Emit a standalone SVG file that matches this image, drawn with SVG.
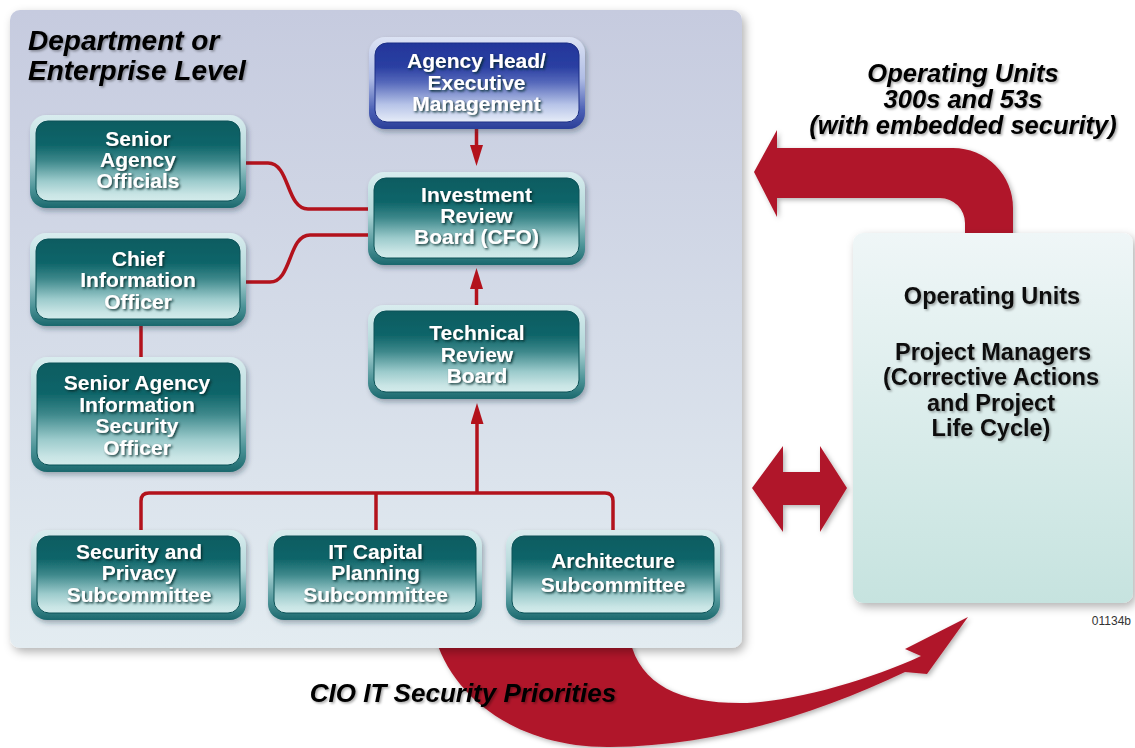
<svg xmlns="http://www.w3.org/2000/svg" width="1135" height="748" viewBox="0 0 1135 748">
<defs>
  <linearGradient id="gPanel" x1="0" y1="0" x2="0" y2="1">
    <stop offset="0" stop-color="#c6cbdf"/>
    <stop offset="1" stop-color="#e3ecf1"/>
  </linearGradient>
  <linearGradient id="gOp" x1="0" y1="0" x2="0" y2="1">
    <stop offset="0" stop-color="#eff6f7"/>
    <stop offset="1" stop-color="#c6e3df"/>
  </linearGradient>
  <linearGradient id="gRimTeal" x1="0" y1="0" x2="0" y2="1">
    <stop offset="0" stop-color="#d9edef"/>
    <stop offset="0.45" stop-color="#b2d7d9"/>
    <stop offset="0.8" stop-color="#4a9296"/>
    <stop offset="1" stop-color="#1b686d"/>
  </linearGradient>
  <linearGradient id="gFillTeal" x1="0" y1="0" x2="0" y2="1">
    <stop offset="0" stop-color="#0b5c61"/>
    <stop offset="0.3" stop-color="#0f6569"/>
    <stop offset="0.5" stop-color="#3d888b"/>
    <stop offset="0.75" stop-color="#9ccbcc"/>
    <stop offset="0.92" stop-color="#c9e5e5"/>
    <stop offset="1" stop-color="#d3ebeb"/>
  </linearGradient>
  <linearGradient id="gRimBlue" x1="0" y1="0" x2="0" y2="1">
    <stop offset="0" stop-color="#dce3f4"/>
    <stop offset="0.45" stop-color="#b0bde5"/>
    <stop offset="0.8" stop-color="#4a5fb5"/>
    <stop offset="1" stop-color="#2b3e98"/>
  </linearGradient>
  <linearGradient id="gFillBlue" x1="0" y1="0" x2="0" y2="1">
    <stop offset="0" stop-color="#23369a"/>
    <stop offset="0.3" stop-color="#2a3fa2"/>
    <stop offset="0.5" stop-color="#5669bb"/>
    <stop offset="0.78" stop-color="#b7c4e8"/>
    <stop offset="1" stop-color="#e6ecf8"/>
  </linearGradient>
  <filter id="fPanel" x="-5%" y="-5%" width="112%" height="112%">
    <feDropShadow dx="3" dy="4" stdDeviation="5" flood-color="#000" flood-opacity="0.3"/>
  </filter>
  <filter id="fNode" x="-10%" y="-10%" width="125%" height="130%">
    <feDropShadow dx="2" dy="3" stdDeviation="2.5" flood-color="#203040" flood-opacity="0.35"/>
  </filter>
  <filter id="fArrow" x="-10%" y="-10%" width="125%" height="130%">
    <feDropShadow dx="2" dy="2" stdDeviation="2.5" flood-color="#000" flood-opacity="0.3"/>
  </filter>
  <filter id="fTxtW" x="-10%" y="-20%" width="125%" height="150%">
    <feDropShadow dx="1.5" dy="1.5" stdDeviation="1" flood-color="#06262b" flood-opacity="0.9"/>
  </filter>
  <filter id="fTxtK" x="-10%" y="-20%" width="125%" height="150%">
    <feDropShadow dx="1.5" dy="1.5" stdDeviation="1.2" flood-color="#000" flood-opacity="0.35"/>
  </filter>
  <marker id="ah" markerUnits="userSpaceOnUse" markerWidth="21" markerHeight="13" viewBox="0 0 21 13" refX="0" refY="6.5" orient="auto">
    <path d="M0,0 L21,6.5 L0,13 Z" fill="#b3121c"/>
  </marker>
  <style>
    .rimT{fill:url(#gRimTeal)}
    .fillT{fill:url(#gFillTeal);stroke:#0a5257;stroke-width:1}
    .rimB{fill:url(#gRimBlue)}
    .fillB{fill:url(#gFillBlue);stroke:#1d2f85;stroke-width:1}
    .node{filter:url(#fNode)}
    .nt{font-family:"Liberation Sans",Arial,Helvetica,sans-serif;font-weight:bold;font-size:21px;fill:#ffffff;text-anchor:middle;filter:url(#fTxtW)}
    .kt{font-family:"Liberation Sans",Arial,Helvetica,sans-serif;font-weight:bold;fill:#111;text-anchor:middle;filter:url(#fTxtK)}
    .it{font-style:italic}
    .conn{fill:none;stroke:#b3121c;stroke-width:3.5}
    .big{fill:#b0172a;filter:url(#fArrow)}
  </style>
</defs>

<rect width="1135" height="748" fill="#ffffff"/>

<!-- big curved arrow (bottom) -->
<g id="arrow-cio-priorities">
  <path class="big" d="M436,640 C455,700 520,748 610,747 C720,746 820,712 905,672 L927,674 L968,617 L905,649 L921,656 C870,680 790,703 740,703 C680,703 640,685 630,640 Z"/>
</g>

<!-- main panel -->
<g id="panel">
  <rect x="10" y="10" width="732" height="638" rx="10" fill="url(#gPanel)" filter="url(#fPanel)"/>
  <text class="kt it" style="font-size:28px;text-anchor:start;fill:#000" x="28" y="50">Department or</text>
  <text class="kt it" style="font-size:28px;text-anchor:start;fill:#000" x="28" y="80">Enterprise Level</text>
</g>

<!-- top curved arrow -->
<g id="arrow-operating-units">
  <path class="big" d="M754,172 L777,130 L777,148 L953,148 A60,60 0 0 1 1013,208 L1013,240 L965,240 L965,223 A25,25 0 0 0 940,198 L777,198 L777,217 Z"/>
</g>

<!-- double arrow -->
<g id="arrow-double">
  <path class="big" d="M752,488 L783,446 L783,472 L820,472 L820,446 L847,488 L820,532 L820,505 L783,505 L783,532 Z"/>
</g>

<!-- operating units box -->
<g id="n-operating-units">
  <rect x="853" y="233" width="280" height="370" rx="10" fill="url(#gOp)" filter="url(#fPanel)"/>
  <text class="kt" style="font-size:23.5px" x="992" y="304">Operating Units</text>
  <text class="kt" style="font-size:23.5px" x="993" y="360">Project Managers</text>
  <text class="kt" style="font-size:23.5px" x="991" y="385">(Corrective Actions</text>
  <text class="kt" style="font-size:23.5px" x="991" y="411">and Project</text>
  <text class="kt" style="font-size:23.5px" x="991" y="436">Life Cycle)</text>
</g>

<!-- labels -->
<g id="labels">
  <text class="kt it" style="font-size:25.5px;fill:#000" x="963" y="82">Operating Units</text>
  <text class="kt it" style="font-size:25.5px;fill:#000" x="963" y="108">300s and 53s</text>
  <text class="kt it" style="font-size:25.5px;fill:#000" x="963" y="134">(with embedded security)</text>
  <text class="kt it" style="font-size:26px;fill:#000" x="463" y="702">CIO IT Security Priorities</text>
  <text style="font-family:'Liberation Sans',Arial,sans-serif;font-size:12px;fill:#333;text-anchor:end" x="1131" y="625">01134b</text>
</g>

<!-- connectors -->
<g id="connectors">
  <path class="conn" d="M476.5,129 V145" marker-end="url(#ah)"/>
  <path class="conn" d="M476.5,305 V289" marker-end="url(#ah)"/>
  <path class="conn" d="M477,493 V424" marker-end="url(#ah)"/>
  <path class="conn" d="M240,163 H268 C290,163 286,209 308,209 H372"/>
  <path class="conn" d="M372,235 H310 C288,235 292,282 270,282 H240"/>
  <path class="conn" d="M141,322 V360"/>
  <path class="conn" d="M141,533 V501 Q141,493 149,493 H605 Q613,493 613,501 V533"/>
  <path class="conn" d="M376,493 V533"/>
</g>

<!-- nodes -->
<g id="n-agency-head" class="node">
  <rect class="rimB" x="369" y="37" width="216" height="92" rx="16"/>
  <rect class="fillB" x="375" y="43" width="204" height="79" rx="12"/>
  <text class="nt" x="476.5" y="68">Agency Head/</text>
  <text class="nt" x="476.5" y="90">Executive</text>
  <text class="nt" x="476.5" y="111">Management</text>
</g>

<g id="n-senior-agency-officials" class="node">
  <rect class="rimT" x="30" y="115" width="216" height="93" rx="16"/>
  <rect class="fillT" x="36" y="121" width="204" height="80" rx="12"/>
  <text class="nt" x="138" y="146">Senior</text>
  <text class="nt" x="138" y="167">Agency</text>
  <text class="nt" x="138" y="188">Officials</text>
</g>

<g id="n-investment-review-board" class="node">
  <rect class="rimT" x="368" y="172" width="217" height="93" rx="16"/>
  <rect class="fillT" x="374" y="178" width="205" height="80" rx="12"/>
  <text class="nt" x="476.5" y="202">Investment</text>
  <text class="nt" x="476.5" y="223">Review</text>
  <text class="nt" x="476.5" y="244">Board (CFO)</text>
</g>

<g id="n-chief-information-officer" class="node">
  <rect class="rimT" x="30" y="233" width="216" height="93" rx="16"/>
  <rect class="fillT" x="36" y="239" width="204" height="80" rx="12"/>
  <text class="nt" x="138" y="266">Chief</text>
  <text class="nt" x="138" y="287">Information</text>
  <text class="nt" x="138" y="309">Officer</text>
</g>

<g id="n-saiso" class="node">
  <rect class="rimT" x="31" y="357" width="215" height="115" rx="16"/>
  <rect class="fillT" x="37" y="363" width="203" height="102" rx="12"/>
  <text class="nt" x="137" y="390">Senior Agency</text>
  <text class="nt" x="137" y="412">Information</text>
  <text class="nt" x="137" y="433">Security</text>
  <text class="nt" x="137" y="455">Officer</text>
</g>

<g id="n-technical-review-board" class="node">
  <rect class="rimT" x="368" y="305" width="217" height="94" rx="16"/>
  <rect class="fillT" x="374" y="311" width="205" height="81" rx="12"/>
  <text class="nt" x="477" y="340">Technical</text>
  <text class="nt" x="477" y="362">Review</text>
  <text class="nt" x="477" y="383">Board</text>
</g>

<g id="n-security-privacy" class="node">
  <rect class="rimT" x="31" y="530" width="215" height="90" rx="16"/>
  <rect class="fillT" x="37" y="536" width="203" height="77" rx="12"/>
  <text class="nt" x="139" y="559">Security and</text>
  <text class="nt" x="139" y="580">Privacy</text>
  <text class="nt" x="139" y="602">Subcommittee</text>
</g>

<g id="n-it-capital-planning" class="node">
  <rect class="rimT" x="268" y="530" width="214" height="90" rx="16"/>
  <rect class="fillT" x="274" y="536" width="202" height="77" rx="12"/>
  <text class="nt" x="375.5" y="559">IT Capital</text>
  <text class="nt" x="375.5" y="580">Planning</text>
  <text class="nt" x="375.5" y="602">Subcommittee</text>
</g>

<g id="n-architecture" class="node">
  <rect class="rimT" x="506" y="530" width="214" height="90" rx="16"/>
  <rect class="fillT" x="512" y="536" width="202" height="77" rx="12"/>
  <text class="nt" x="613" y="568">Architecture</text>
  <text class="nt" x="613" y="592">Subcommittee</text>
</g>
</svg>
